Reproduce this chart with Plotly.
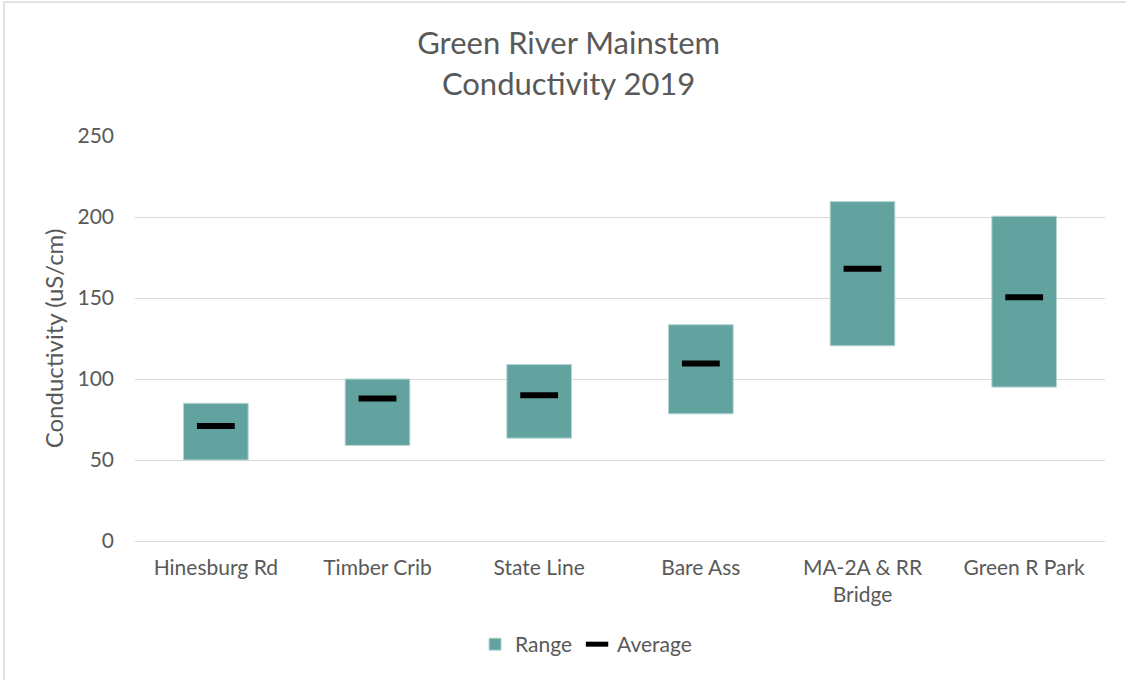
import plotly.graph_objects as go

# Sampling sites along the mainstem
sites = ["Hinesburg Rd", "Timber Crib", "State Line", "Bare Ass",
         "MA-2A & RR<br>Bridge", "Green R Park"]

# Conductivity (uS/cm) per site, 2019 season
cond_min = [50, 59, 63.5, 78.5, 120.5, 95]
cond_max = [85, 100, 109, 133.5, 209.5, 200.5]
cond_avg = [71, 88, 90, 109.5, 168, 150.5]

TEAL = "#62a39f"
GREY = "#595959"
FONT = "Lato"

fig = go.Figure()

fig.add_trace(go.Bar(
    x=sites,
    y=[hi - lo for lo, hi in zip(cond_min, cond_max)],
    base=cond_min,
    name="Range",
    marker=dict(color=TEAL, line=dict(color="#b4d6d3", width=1)),
    width=0.4,
))

fig.add_trace(go.Scatter(
    x=sites,
    y=cond_avg,
    name="Average",
    mode="markers",
    marker=dict(symbol="line-ew", size=27, line=dict(color="black", width=6)),
))

fig.update_layout(
    width=1126,
    height=680,
    paper_bgcolor="white",
    plot_bgcolor="white",
    margin=dict(l=135, r=21, t=136, b=139),
    font=dict(family=FONT, color=GREY, size=21),
    title=dict(
        text="Green River Mainstem<br>Conductivity 2019",
        x=0.505, xref="container", xanchor="center",
        y=0.92, yref="container", yanchor="middle",
        font=dict(family=FONT, size=31, color=GREY),
    ),
    showlegend=True,
    legend=dict(
        orientation="h",
        x=0.465, xanchor="center",
        y=-0.205, yanchor="top",
        font=dict(size=21, color=GREY),
        itemwidth=30,
    ),
    bargap=0.6,
    xaxis=dict(
        showgrid=False,
        showline=False,
        ticks="",
        ticklabelstandoff=12,
        tickfont=dict(size=21, color=GREY),
    ),
    yaxis=dict(
        range=[0, 250],
        tickvals=[0, 50, 100, 150, 200, 250],
        showgrid=True,
        gridcolor="#d9d9d9",
        gridwidth=1,
        zeroline=True,
        zerolinecolor="#d9d9d9",
        zerolinewidth=1,
        showline=False,
        ticks="",
        ticklabelstandoff=20,
        tickfont=dict(size=21, color=GREY),
        title=dict(text="Conductivity (uS/cm)", font=dict(size=24, color=GREY),
                   standoff=7),
    ),
    shapes=[dict(
        type="rect", xref="paper", yref="paper",
        x0=-0.135, x1=1.03, y0=-0.37, y1=1.331,
        line=dict(color="#d9d9d9", width=1.5),
        fillcolor="rgba(0,0,0,0)", layer="below",
    )],
)

fig.write_html("out.html")
